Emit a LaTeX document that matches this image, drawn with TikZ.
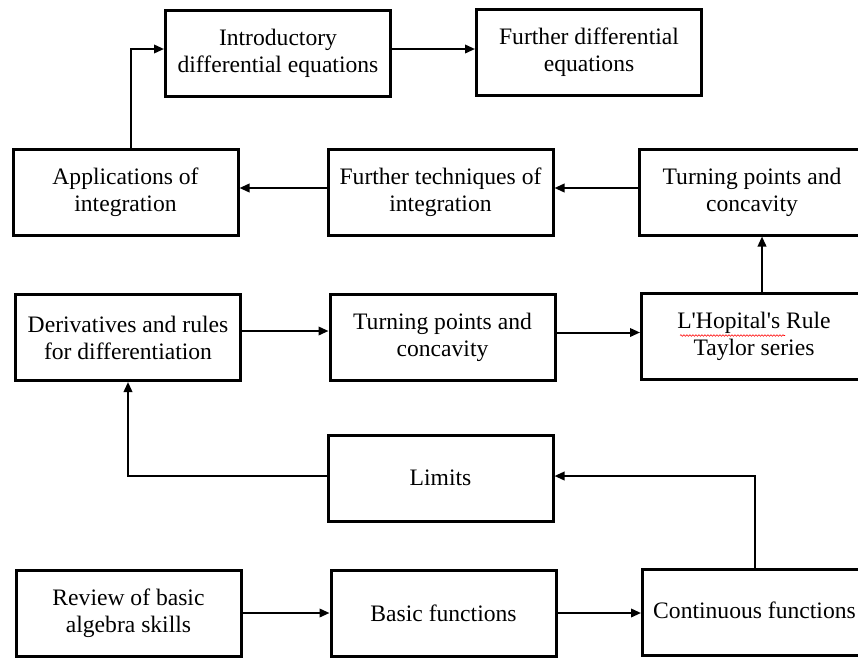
\documentclass[tikz,border=0pt]{standalone}
\usepackage{fontspec}
\setmainfont{Liberation Serif}[Ligatures=TeXOff]
\usetikzlibrary{arrows.meta,decorations.pathmorphing}
\begin{document}
\begin{tikzpicture}[x=1pt,y=-1pt,
  box/.style={draw, line width=3pt, minimum width=225pt, minimum height=86pt,
    inner sep=0pt, align=center, font=\fontsize{23.6}{27}\selectfont},
  label/.style={inner sep=0pt, font=\fontsize{23.6}{27}\selectfont},
  conn/.style={line width=2pt, -{Triangle[length=10pt,width=8.5pt]}}]
\useasboundingbox (0,0) rectangle (858,659);
\clip (0,0) rectangle (858,659);
\fill[white] (0,0) rectangle (858,659);
\node[box] (intro) at (278,53.5) {Introductory\\differential equations};
\node[box] (furtherDE) at (589,52.5) {Further differential\\equations};
\node[box] (apps) at (125.5,192.5) {Applications of\\integration};
\node[box] (tech) at (440.5,192.5) {Further techniques of\\integration};
\node[box] (turnTop) at (752,192) {Turning points and\\concavity};
\node[box] (deriv) at (128,337.5) {Derivatives and rules\\for differentiation};
\node[box] (turnMid) at (442.5,337.5) {Turning points and\\concavity};
\node[box] (lhop) at (754,336) {L'Hopital's Rule\\Taylor series};
\node[box] (limits) at (440.5,478) {Limits};
\node[box] (review) at (128.5,613) {Review of basic\\algebra skills};
\node[box] (basic) at (443.5,613) {Basic functions};
\node[box] (cont) at (755,612) {};
\node[label, anchor=west] (contText) at (653,610) {Continuous functions};
\draw[red, line width=0.6pt, decorate, decoration={snake, amplitude=0.8pt, segment length=3pt}]
  (680,335.5) -- (785,335.5);
\draw[conn] ([yshift=4.5pt]intro.east) -- ([yshift=4.5pt]intro.east -| furtherDE.west);
\draw[conn] ([xshift=5.5pt]apps.north) |- ([yshift=4.5pt]intro.west);
\draw[conn] ([yshift=4.5pt]tech.west) -- ([yshift=4.5pt]tech.west -| apps.east);
\draw[conn] ([yshift=4pt]turnTop.west) -- ([yshift=4pt]turnTop.west -| tech.east);
\draw[conn] ([xshift=8pt]lhop.north) -- ([xshift=8pt]lhop.north |- turnTop.south);
\draw[conn] ([yshift=6.5pt]deriv.east) -- ([yshift=6.5pt]deriv.east -| turnMid.west);
\draw[conn] ([yshift=5pt]turnMid.east) -- ([yshift=5pt]turnMid.east -| lhop.west);
\draw[conn] ([yshift=2pt]limits.west) -| (deriv.south);
\draw[conn] (cont.north) |- ([yshift=2pt]limits.east);
\draw[conn] (review.east) -- (review.east -| basic.west);
\draw[conn] (basic.east) -- (basic.east -| cont.west);
\end{tikzpicture}
\end{document}
